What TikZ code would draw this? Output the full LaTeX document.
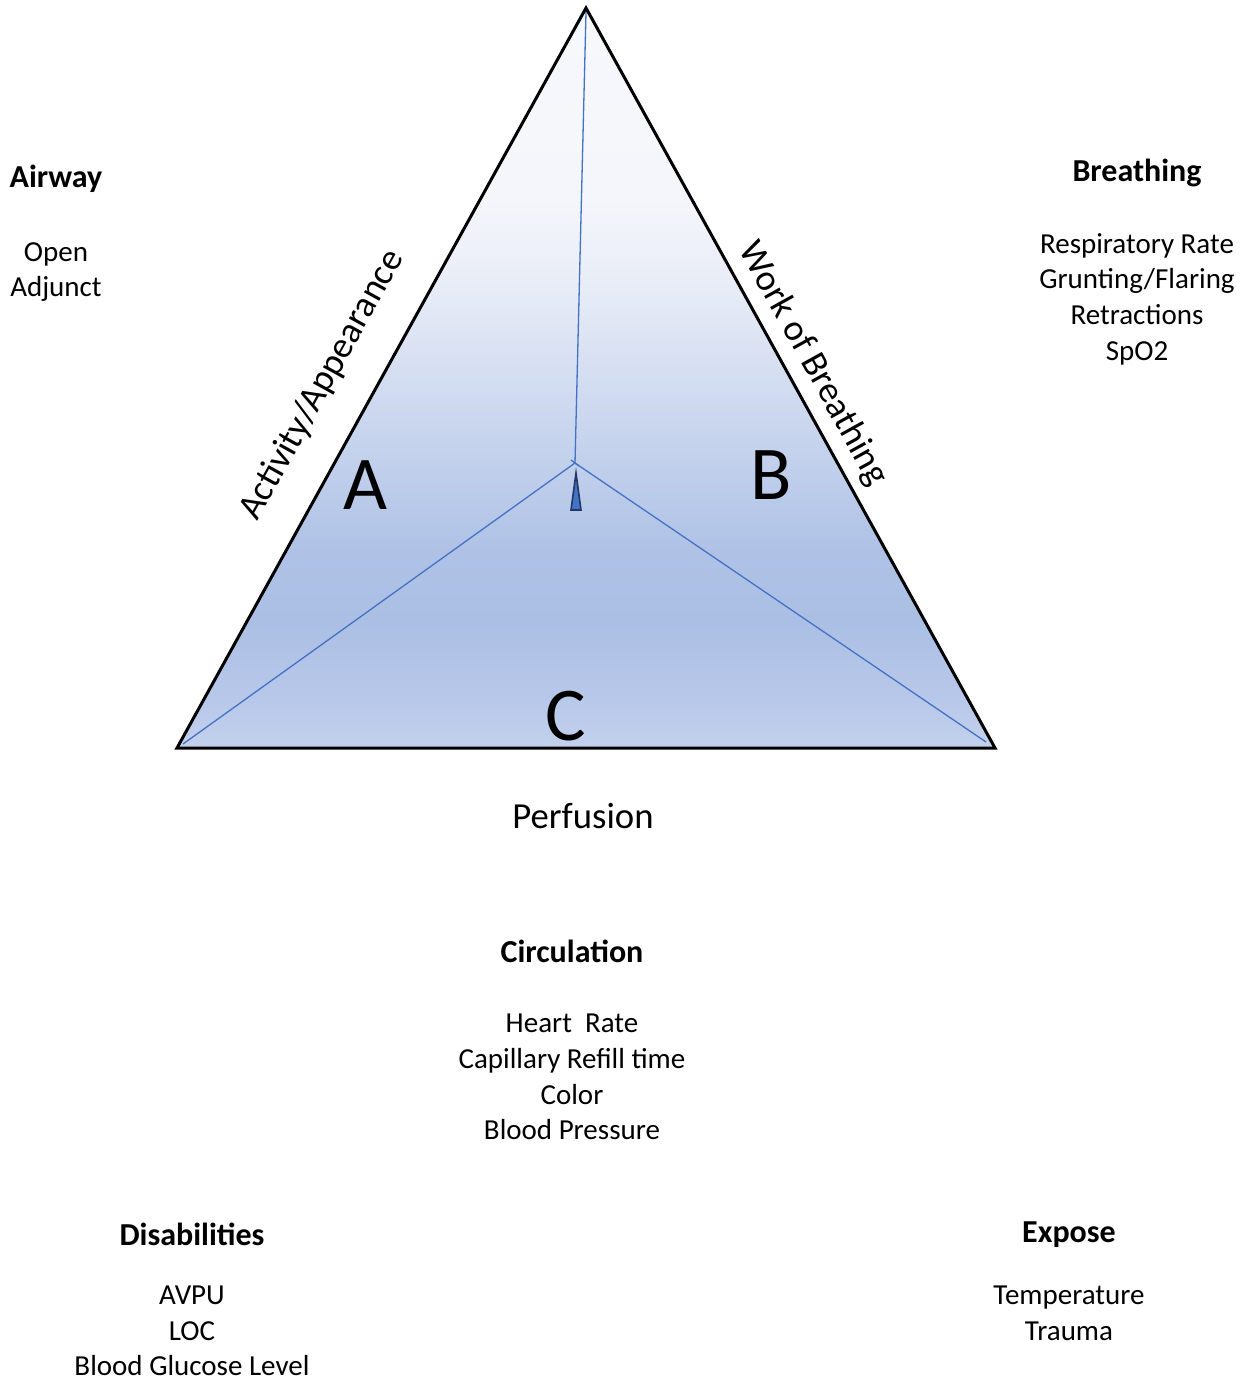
\documentclass[tikz,border=0pt]{standalone}
\usepackage{fontspec}
\setmainfont{Carlito}
\definecolor{s0}{HTML}{C3D1EC}
\definecolor{s1}{HTML}{B8C8EA}
\definecolor{s2}{HTML}{ABBFE4}
\definecolor{s3}{HTML}{AFC2E6}
\definecolor{s4}{HTML}{CFDAF0}
\definecolor{s5}{HTML}{E9EDF7}
\definecolor{s6}{HTML}{F4F6FB}
\definecolor{s7}{HTML}{F6F8FC}
\definecolor{lineblue}{HTML}{4472C4}
\definecolor{navy}{HTML}{1F3864}
\pgfdeclareverticalshading{trishade}{100bp}{color(0bp)=(s0); color(25bp)=(s0); color(28.24bp)=(s1); color(33.65bp)=(s2); color(38.38bp)=(s3); color(48.51bp)=(s4); color(56.62bp)=(s5); color(62.03bp)=(s6); color(75bp)=(s7); color(100bp)=(s7)}
\tikzset{
  head/.style={font=\fontsize{32}{36}\selectfont\bfseries, align=center, inner sep=0pt},
  body/.style={font=\fontsize{29}{35.6}\selectfont, align=center, inner sep=0pt},
  big/.style={font=\fontsize{76}{80}\selectfont, inner sep=0pt},
  side/.style={font=\fontsize{36.7}{40}\selectfont, inner sep=0pt},
  inner/.style={draw=lineblue, line width=1.3pt}
}
\begin{document}
\begin{tikzpicture}[x=1pt,y=-1pt]
\useasboundingbox (0,0) rectangle (1252,1383);
\coordinate (top) at (586,8);
\coordinate (left) at (177,748);
\coordinate (right) at (995,748);
\coordinate (ctr) at (575,463);
\coordinate (le) at (183,744);
\coordinate (re) at (986,742);
\coordinate (te) at (586,12);
\shade[shading=trishade] (top) -- (left) -- (right) -- cycle;
\draw[inner] (ctr) -- (te);
\draw[inner] (ctr) -- (le);
\draw[inner] (ctr) -- (re);
\draw[inner] (571,460) -- (579,466);
\draw[line width=3pt, line join=miter] (top) -- (left) -- (right) -- cycle;
\coordinate (p1) at (576,473);
\coordinate (p2) at (571,510);
\coordinate (p3) at (581,510);
\draw[fill=lineblue, draw=navy, line width=1.6pt] (p1) -- (p2) -- (p3) -- cycle;
\node[big] (A) at (365,485) {A};
\node[big] (B) at (771,475) {B};
\node[big] (C) at (566,716) {C};
\node[side, rotate=61] (act) at (322,385) {Activity/Appearance};
\node[side, rotate=-61] (wob) at (813,364) {Work of Breathing};
\node[side] (perf) at (583,816) {Perfusion};
\node[head] (airway) at (56,179) {Airway};
\node[body] (airwayb) at (56,272) {Open\\Adjunct};
\node[head] (breath) at (1137,173) {Breathing};
\node[body] (breathb) at (1137,299) {Respiratory Rate\\Grunting/Flaring\\Retractions\\SpO2};
\node[head] (circ) at (572,951) {Circulation};
\node[body] (circb) at (572,1077) {Heart\ \ Rate\\Capillary Refill time\\Color\\Blood Pressure};
\node[head] (dis) at (192,1234) {Disabilities};
\node[body] (disb) at (192,1331) {AVPU\\LOC\\Blood Glucose Level};
\node[head] (exp) at (1069,1235) {Expose};
\node[body] (expb) at (1069,1313) {Temperature\\Trauma};
\end{tikzpicture}
\end{document}
